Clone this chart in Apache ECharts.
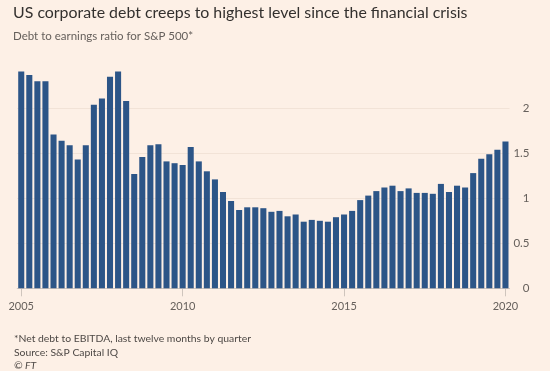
<!DOCTYPE html>
<html>
<head>
<meta charset="utf-8">
<script src="https://cdn.jsdelivr.net/npm/echarts@6/dist/echarts.min.js"></script>
<style>
html,body{margin:0;padding:0;background:#FDF0E6;}
#c{width:550px;height:371px;}
</style>
</head>
<body>
<div id="c"></div>
<script>
const years = [2005,2006,2007,2008,2009,2010,2011,2012,2013,2014,2015,2016,2017,2018,2019,2020];
const quarters = ['Q1','Q2','Q3','Q4'];
const debtRatio = [2.41,2.37,2.30,2.30,1.71,1.64,1.59,1.43,1.59,2.04,
  2.11,2.35,2.41,2.08,1.27,1.46,1.59,1.60,1.41,1.39,
  1.37,1.57,1.41,1.30,1.21,1.07,0.97,0.87,0.90,0.90,
  0.89,0.85,0.86,0.80,0.82,0.74,0.76,0.75,0.74,0.79,
  0.82,0.86,0.98,1.03,1.08,1.12,1.14,1.08,1.11,1.06,
  1.06,1.05,1.16,1.07,1.14,1.12,1.28,1.44,1.49,1.54,1.63];
const yTicks = [0,0.5,1,1.5,2];

const categories = [];
for (const y of years) for (const q of quarters) {
  if (categories.length < debtRatio.length) categories.push(y + ' ' + q);
}

const chart = echarts.init(document.getElementById('c'), null, {renderer:'canvas'});
const FONT = 'Lato, "Open Sans", sans-serif';
chart.setOption({
  backgroundColor:'#FDF0E6',
  animation:false,
  title:[
    {text:'US corporate debt creeps to highest level since the financial crisis', left:8, top:0,
     textStyle:{fontFamily:FONT, fontSize:15.9, fontWeight:'normal', color:'#33302e'}},
    {text:'Debt to earnings ratio for S&P 500*', left:8, top:25,
     textStyle:{fontFamily:FONT, fontSize:11.5, fontWeight:'normal', color:'#66605c'}},
    {text:'*Net debt to EBITDA, last twelve months by quarter\nSource: S&P Capital IQ', left:9, top:327.5,
     textStyle:{fontFamily:FONT, fontSize:10.4, fontWeight:'normal', color:'#4d4845', lineHeight:13.3}},
    {text:'© FT', left:9, top:355.5,
     textStyle:{fontFamily:FONT, fontSize:10.4, fontWeight:'normal', fontStyle:'italic', color:'#4d4845'}}
  ],
  grid:{left:17.2, right:40.5, top:63.3, bottom:82.7, containLabel:false},
  xAxis:{
    type:'category', data:categories, boundaryGap:true,
    axisLine:{show:true, lineStyle:{color:'#cfc5bd', width:1}},
    axisTick:{show:true, alignWithLabel:true, length:8, lineStyle:{color:'#cfc5bd'},
      interval:function(i){return i % 20 === 0;}},
    axisLabel:{interval:function(i){return i % 20 === 0;}, margin:13,
      fontFamily:FONT, fontSize:11, color:'#66605c',
      formatter:function(v){return v.split(' ')[0];}}
  },
  yAxis:{
    type:'value', position:'right', min:0, max:2.5, interval:0.5,
    axisLine:{show:false}, axisTick:{show:false},
    axisLabel:{align:'right', margin:20, fontFamily:FONT, fontSize:11.5, color:'#66605c',
      formatter:function(v){return yTicks.indexOf(v) >= 0 ? String(v) : '';}},
    splitLine:{show:true, lineStyle:{color:['rgba(0,0,0,0)','#f2e3d7','#f2e3d7','#f2e3d7','#f2e3d7','rgba(0,0,0,0)'], width:1}}
  },
  series:[{
    type:'bar', data:debtRatio, barCategoryGap:'25%',
    itemStyle:{color:'#2c5587'}
  }]
});
</script>
</body>
</html>
